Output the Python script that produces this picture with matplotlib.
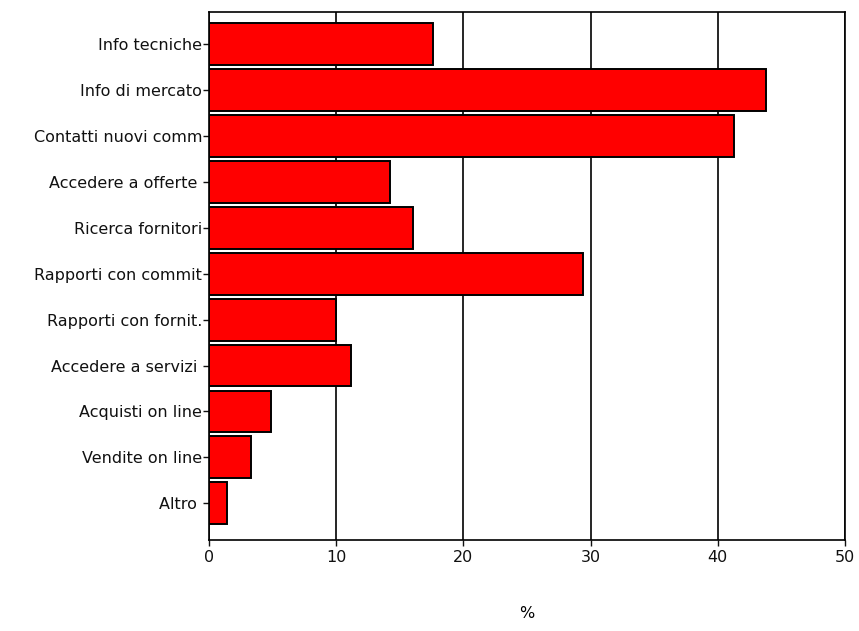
import matplotlib
matplotlib.use("Agg")
import matplotlib.pyplot as plt

categories = [
    "Info tecniche", "Info di mercato", "Contatti nuovi comm", "Accedere a offerte ",
    "Ricerca fornitori", "Rapporti con commit", "Rapporti con fornit.", "Accedere a servizi ",
    "Acquisti on line", "Vendite on line", "Altro ",
]
values = [17.6, 43.8, 41.3, 14.2, 16.0, 29.4, 10.0, 11.2, 4.9, 3.3, 1.4]
x_ticks = [0, 10, 20, 30, 40, 50]

plt.rcParams["font.family"] = ["DejaVu Sans"]

fig = plt.figure(figsize=(8.59, 6.31), dpi=100)
ax = fig.add_axes([0.2433, 0.1442, 0.7404, 0.8368])

pos = list(range(len(categories)))
ax.barh(pos, values, height=0.91, color="#ff0000", edgecolor="black",
        linewidth=1.4, zorder=3)

ax.set_ylim(len(categories) - 1 + 0.8, -0.7)
ax.set_xlim(0, 50)
ax.set_xticks(x_ticks)
ax.set_yticks(pos)
ax.set_yticklabels(categories)
ax.xaxis.grid(True, color="black", linewidth=1.2, zorder=0)
ax.set_axisbelow(True)

for s in ax.spines.values():
    s.set_linewidth(1.2)
ax.tick_params(axis="both", labelsize=11.5, colors="#111111", width=1, length=4)
ax.tick_params(axis="y", pad=1)
ax.tick_params(axis="x", pad=3)

ax.set_xlabel("%", fontsize=11.5, labelpad=30)

fig.savefig("out.png", dpi=100, facecolor="white")
